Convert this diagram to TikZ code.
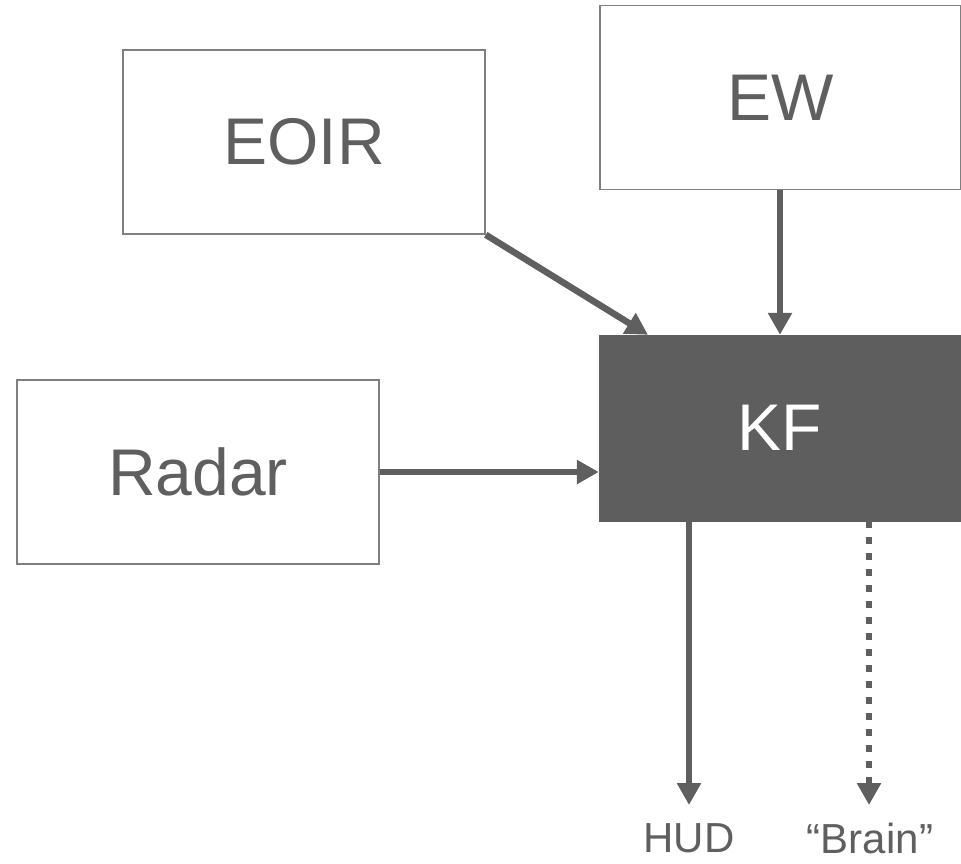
\documentclass[tikz,border=0pt]{standalone}
\usepackage{fontspec}
\setmainfont{Liberation Sans}
\usetikzlibrary{arrows.meta}
\definecolor{txt}{HTML}{5F5F5F}
\definecolor{brd}{HTML}{7F7F7F}
\definecolor{kff}{HTML}{5E5E5E}
\begin{document}
\begin{tikzpicture}[x=1pt,y=-1pt,
  box/.style={draw=brd,line width=1.6pt,fill=white,minimum width=#1,minimum height=184pt,inner sep=0pt,text=txt,font=\fontsize{66}{66}\selectfont},
  conn/.style={draw=txt,line width=6.5pt,-{Triangle[length=22pt,width=23pt]}},
  lbl/.style={text=txt,font=\fontsize{42}{42}\selectfont,inner sep=0pt}]
\useasboundingbox (0,0) rectangle (961,863);
\node[box=362pt] (eoir) at (304,142) {EOIR};
\node[box=361pt] (ew) at (780.5,97.5) {EW};
\node[box=362pt] (radar) at (198,472) {Radar};
\node[draw=kff,fill=kff,minimum width=362pt,minimum height=186pt,inner sep=0pt,text=white,font=\fontsize{66}{66}\selectfont] (kf) at (780,428) {KF};
\node[lbl] (hud) at (689,838) {HUD};
\node[lbl] (brain) at (870,838) {“Brain”};
\coordinate (hudtip) at (689,805);
\coordinate (braintip) at (869,805);
\draw[conn] (eoir.south east) -- (kf.north west -| 648,0) ;
\draw[conn] (ew.south -| 780,0) -- (kf.north -| 780,0);
\draw[conn] (radar.east |- 0,472) -- (kf.west |- 0,472);
\draw[conn] (kf.south -| 689,0) -- (hudtip);
\draw[conn,dash pattern=on 7pt off 9pt] (kf.south -| 869,0) -- (braintip);
\end{tikzpicture}
\end{document}
